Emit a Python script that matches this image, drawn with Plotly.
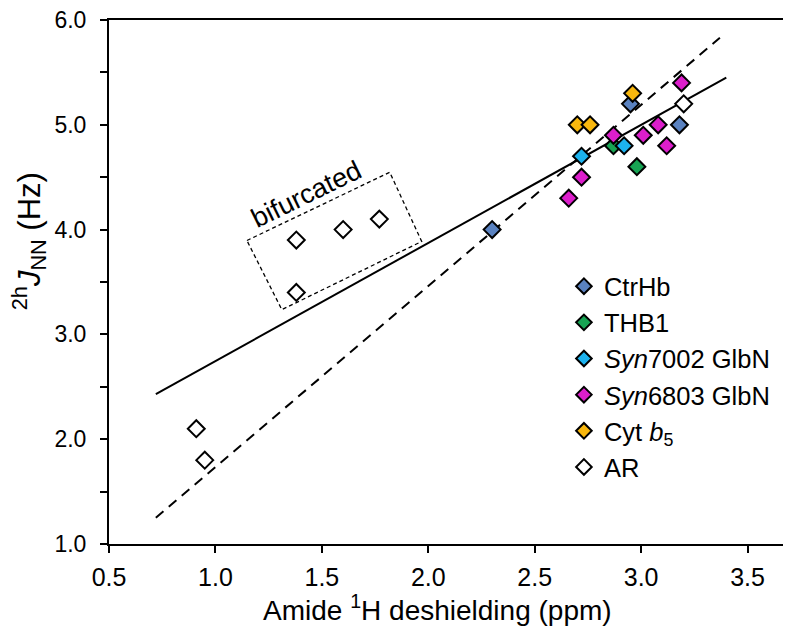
import plotly.graph_objects as go

# Data
ctrhb_x = [2.30, 2.95, 3.18]
ctrhb_y = [4.0, 5.2, 5.0]
thb1_x = [2.87, 2.98]
thb1_y = [4.8, 4.6]
syn7002_x = [2.72, 2.92]
syn7002_y = [4.7, 4.8]
syn6803_x = [2.66, 2.72, 2.87, 3.01, 3.08, 3.12, 3.19]
syn6803_y = [4.3, 4.5, 4.9, 4.9, 5.0, 4.8, 5.4]
cytb5_x = [2.70, 2.76, 2.96]
cytb5_y = [5.0, 5.0, 5.3]
ar_x = [0.91, 0.95, 1.38, 1.38, 1.60, 1.77, 3.20]
ar_y = [2.1, 1.8, 3.4, 3.9, 4.0, 4.1, 5.2]

solid_fit_x = [0.72, 3.40]
solid_fit_y = [2.43, 5.45]
dashed_fit_x = [0.72, 3.37]
dashed_fit_y = [1.25, 5.83]

bif_box_x = [1.148, 1.819, 1.969, 1.312]
bif_box_y = [3.896, 4.547, 3.887, 3.236]

x_ticks = [0.5, 1.0, 1.5, 2.0, 2.5, 3.0, 3.5]
y_ticks = [1.0, 2.0, 3.0, 4.0, 5.0, 6.0]

series = [
    ("CtrHb", ctrhb_x, ctrhb_y, "#5a82c0"),
    ("THB1", thb1_x, thb1_y, "#17a453"),
    ("<i>Syn</i>7002 GlbN", syn7002_x, syn7002_y, "#1cb2ee"),
    ("<i>Syn</i>6803 GlbN", syn6803_x, syn6803_y, "#dc1ecb"),
    ("Cyt <i>b</i><sub>5</sub>", cytb5_x, cytb5_y, "#f8b70e"),
    ("AR", ar_x, ar_y, "#ffffff"),
]

FONT = "Liberation Sans, Arial, sans-serif"

fig = go.Figure()

fig.add_trace(go.Scatter(x=solid_fit_x, y=solid_fit_y, mode="lines",
                         line=dict(color="black", width=2), showlegend=False,
                         hoverinfo="skip"))
fig.add_trace(go.Scatter(x=dashed_fit_x, y=dashed_fit_y, mode="lines",
                         line=dict(color="black", width=2, dash="10px,7px"),
                         showlegend=False, hoverinfo="skip"))

for name, xs, ys, col in series:
    fig.add_trace(go.Scatter(x=xs, y=ys, mode="markers", name=name,
                             marker=dict(symbol="diamond", size=13, color=col,
                                         line=dict(color="black", width=2))))

path = "M {} {} L {} {} L {} {} L {} {} Z".format(
    bif_box_x[0], bif_box_y[0], bif_box_x[1], bif_box_y[1],
    bif_box_x[2], bif_box_y[2], bif_box_x[3], bif_box_y[3])
fig.add_shape(type="path", path=path, xref="x", yref="y",
              line=dict(color="black", width=1.3, dash="4px,3px"))

fig.add_annotation(x=1.43, y=4.34, xref="x", yref="y", text="bifurcated",
                   showarrow=False, textangle=-26,
                   font=dict(family=FONT, size=27, color="black"))

# axis titles as annotations (placed like the reference)
fig.add_annotation(x=-0.117, y=0.577, xref="paper", yref="paper",
                   text="<sup>2h</sup><i>J</i><sub>NN</sub> (Hz)",
                   showarrow=False, textangle=-90,
                   xanchor="center", yanchor="middle",
                   font=dict(family=FONT, size=31, color="black"))
fig.add_annotation(x=0.4845, y=-0.122, xref="paper", yref="paper",
                   text="Amide <sup>1</sup>H deshielding (ppm)",
                   showarrow=False, xanchor="center", yanchor="middle",
                   font=dict(family=FONT, size=28, color="black"))

# the page body adds an 8px offset, so the figure is sized to fit the window
fig.update_layout(
    width=783, height=624,
    margin=dict(l=101, r=3, t=12, b=88, autoexpand=False),
    paper_bgcolor="white", plot_bgcolor="white",
    font=dict(family=FONT, color="black"),
    legend=dict(x=0.670, y=0.536, xanchor="left", yanchor="top",
                font=dict(size=25.5), bgcolor="rgba(0,0,0,0)",
                itemsizing="constant"),
)

fig.update_xaxes(range=[0.5, 3.69], tickvals=x_ticks,
                 ticktext=["%.1f" % v for v in x_ticks],
                 ticks="outside", ticklen=7, tickwidth=2, tickcolor="black",
                 showline=True, linecolor="black", linewidth=2, mirror=True,
                 showgrid=False, zeroline=False, automargin=False,
                 ticklabelstandoff=3,
                 tickfont=dict(size=25))
fig.update_yaxes(range=[1.0, 6.0], tickvals=y_ticks,
                 ticktext=["%.1f" % v for v in y_ticks],
                 ticks="outside", ticklen=7, tickwidth=2, tickcolor="black",
                 minor=dict(dtick=0.5, ticks="outside", ticklen=7, tickwidth=2,
                            tickcolor="black", showgrid=False),
                 showline=True, linecolor="black", linewidth=2, mirror=True,
                 showgrid=False, zeroline=False, ticklabelstandoff=9,
                 ticklabeloverflow="allow", automargin=False,
                 tickfont=dict(size=23))

fig.write_html("out.html")
